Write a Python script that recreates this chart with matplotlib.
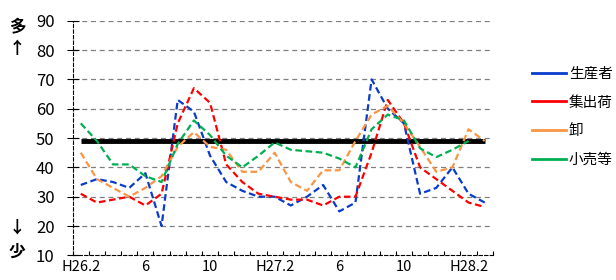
import numpy as np
import matplotlib
matplotlib.use("Agg")
import matplotlib.pyplot as plt
from matplotlib.lines import Line2D

plt.rcParams["font.family"] = ["Noto Sans CJK JP", "DejaVu Sans"]

# H26.2 .. H28.3 (26 months), labels every 4 months
months = ["H26.2", "3", "4", "5", "6", "7", "8", "9", "10", "11", "12", "H27.1",
          "H27.2", "3", "4", "5", "6", "7", "8", "9", "10", "11", "12", "H28.1",
          "H28.2", "H28.3"]
tick_labels = ["H26.2", "6", "10", "H27.2", "6", "10", "H28.2"]

producer = [34, 36, 35, 33, 38, 20, 63, 59, 44, 35, 32, 30, 30, 27, 30, 34,
            25, 28, 70, 60, 55, 31, 33, 40, 31, 28]
shipper = [31, 28, 29, 30, 27, 31, 55, 67, 62, 41, 35, 31, 30, 29, 29, 27,
           30, 30, 45, 63, 55, 40, 36, 32, 28, 26.5]
wholesale = [45, 36, 33, 30, 33, 37, 47, 52, 47, 46, 38.5, 38.5, 45, 35, 32, 39,
             39, 49, 58, 61, 55, 47, 38.5, 40, 53, 49]
retail = [55, 49, 41, 41, 37, 35, 48, 56, 51, 44, 40, 44, 48.5, 46, 45.5, 45,
          43, 40, 53, 58, 56, 46.5, 43.5, 46, 49, np.nan]
baseline = [49] * len(months)

series = [("生産者", producer, "#0a3ccc"),
          ("集出荷", shipper, "#ff0000"),
          ("卸", wholesale, "#f79646"),
          ("小売等", retail, "#00b050")]

fig = plt.figure(figsize=(6.16, 2.8), dpi=100)
ax = fig.add_axes([0.118, 0.088, 0.682, 0.838])

x = np.arange(len(months))
ax.plot(x, baseline, color="black", lw=3.5, solid_capstyle="butt", zorder=2)
for name, vals, col in series:
    ax.plot(x, vals, color=col, lw=1.6, linestyle=(0, (3, 1.6)), zorder=3)

ax.set_xlim(-0.5, len(months) - 0.5)
ax.set_ylim(10, 90)
ax.set_yticks(range(10, 91, 10))
ax.tick_params(axis="y", labelsize=12, direction="inout", length=8, width=0.8, pad=9)

ax.set_xticks([months.index(tick_labels[0])] + [i * 4 for i in range(1, len(tick_labels))])
ax.set_xticklabels(tick_labels)
ax.set_xticks(np.arange(-0.5, len(months), 1), minor=True)
ax.tick_params(axis="x", which="major", length=0, labelsize=10.5, pad=3)
ax.tick_params(axis="x", which="minor", direction="in", length=3, width=0.8)

for v in range(20, 91, 10):
    ax.axhline(v, color="#808080", lw=0.9, linestyle=(0, (4, 3)), zorder=1)

for s in ("top", "right"):
    ax.spines[s].set_visible(False)
for s in ("left", "bottom"):
    ax.spines[s].set_linestyle((0, (3, 2)))
    ax.spines[s].set_linewidth(0.8)

handles = [Line2D([0], [0], color=c, lw=2) for _, _, c in series]
fig.legend(handles, [n for n, _, _ in series], loc="upper left",
           bbox_to_anchor=(0.843, 0.808), frameon=False, fontsize=10.5,
           handlelength=2.3, handletextpad=0.2, labelspacing=1.0)

fig.text(0.028, 0.905, "多", fontsize=12, fontweight="bold", ha="center", va="center")
fig.text(0.028, 0.825, "↑", fontsize=12, fontweight="bold", ha="center", va="center")
fig.text(0.028, 0.186, "↓", fontsize=12, fontweight="bold", ha="center", va="center")
fig.text(0.028, 0.100, "少", fontsize=12, fontweight="bold", ha="center", va="center")

fig.savefig("out.png", dpi=100)
